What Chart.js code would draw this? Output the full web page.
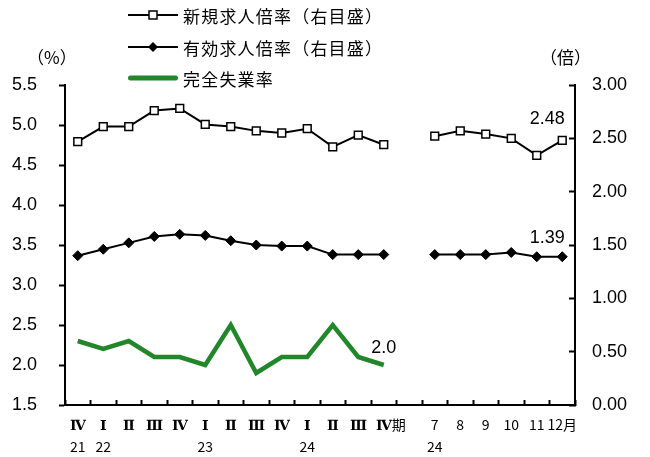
<!DOCTYPE html>
<html><head><meta charset="utf-8">
<script src="https://cdn.jsdelivr.net/npm/chart.js@4/dist/chart.umd.min.js"></script>
<style>
@font-face{font-family:"RomanSerif";src:local("DejaVu Serif Bold"),local("DejaVuSerif-Bold");unicode-range:U+2160-216F;}
html,body{margin:0;padding:0;background:#fff;}
#wrap{position:relative;width:650px;height:457px;overflow:hidden;}
#c{position:absolute;left:0;top:0;}
.t{position:absolute;font-family:"Noto Sans CJK JP";font-size:17px;color:#000;white-space:nowrap;line-height:1;}
.lg{position:absolute;left:128px;display:flex;align-items:center;height:24px;}
.lg span{font-family:"Noto Sans CJK JP";font-size:17px;letter-spacing:1.2px;margin-left:5px;color:#000;white-space:nowrap;}
</style></head>
<body>
<div id="wrap">
<canvas id="c" width="650" height="457"></canvas>
<div id="legend"></div>
<div class="t" style="left:27px;top:48px">（%）</div>
<div class="t" style="left:540px;top:48px">（倍）</div>
</div>
<script>
const categories = [["Ⅳ","21"],["Ⅰ","22"],"Ⅱ","Ⅲ","Ⅳ",["Ⅰ","23"],"Ⅱ","Ⅲ","Ⅳ",["Ⅰ","24"],"Ⅱ","Ⅲ","Ⅳ","期\u3000\u2002",["7","24"],"8","9","10","11","12月"];
const newRatio = [2.47,2.61,2.61,2.76,2.78,2.63,2.61,2.57,2.55,2.59,2.42,2.53,2.44,null,2.52,2.57,2.54,2.50,2.34,2.48];
const effRatio = [1.40,1.46,1.52,1.58,1.60,1.59,1.54,1.50,1.49,1.49,1.41,1.41,1.41,null,1.41,1.41,1.41,1.43,1.39,1.39];
const unemployment = [2.3,2.2,2.3,2.1,2.1,2.0,2.5,1.9,2.1,2.1,2.5,2.1,2.0,null,null,null,null,null,null,null];
const seriesNames = ["新規求人倍率（右目盛）","有効求人倍率（右目盛）","完全失業率"];
const leftTicks = [1.5,5.5,0.5];
const rightTicks = [0,3,0.5];
const endLabels = ["2.48","1.39","2.0"];

const GREEN = "#23862b";

// HTML legend
const legendDiv = document.getElementById('legend');
const legendMarkers = [
  '<svg width="50" height="12"><line x1="0" y1="6" x2="50" y2="6" stroke="#000" stroke-width="2"/><rect x="21" y="2" width="8" height="8" fill="#fff" stroke="#000" stroke-width="1.5"/></svg>',
  '<svg width="50" height="12"><line x1="0" y1="6" x2="50" y2="6" stroke="#000" stroke-width="2"/><polygon points="25,1 30,6 25,11 20,6" fill="#000"/></svg>',
  '<svg width="50" height="12"><line x1="2.5" y1="6" x2="47.5" y2="6" stroke="'+GREEN+'" stroke-width="5" stroke-linecap="round"/></svg>'
];
const legendY = [3, 35, 66];
seriesNames.forEach((n,i)=>{
  const d = document.createElement('div');
  d.className = 'lg';
  d.style.top = legendY[i] + 'px';
  d.innerHTML = legendMarkers[i] + '<span>' + n + '</span>';
  legendDiv.appendChild(d);
});

const endLabelPlugin = {
  id: 'endLabels',
  afterDatasetsDraw(chart) {
    const ctx = chart.ctx;
    ctx.save();
    ctx.font = '18px "Liberation Sans"';
    ctx.fillStyle = '#000';
    ctx.textAlign = 'center';
    ctx.textBaseline = 'middle';
    const specs = [[0,19,-15,-21],[1,19,-15,-19],[2,12,0,-17]];
    specs.forEach(([ds,idx,dx,dy])=>{
      const el = chart.getDatasetMeta(ds).data[idx];
      ctx.fillText(endLabels[ds], el.x + dx, el.y + dy);
    });
    ctx.restore();
  }
};

function draw(){
new Chart(document.getElementById('c'), {
  type: 'line',
  data: {
    labels: categories,
    datasets: [
      {label: seriesNames[0], data: newRatio, yAxisID: 'yR', borderColor: '#000', borderWidth: 2,
       pointStyle: 'rect', pointRadius: 5.5, pointBackgroundColor: '#fff', pointBorderColor: '#000', pointBorderWidth: 1.5,
       spanGaps: false, tension: 0},
      {label: seriesNames[1], data: effRatio, yAxisID: 'yR', borderColor: '#000', borderWidth: 2,
       pointStyle: 'rectRot', pointRadius: 5, pointBackgroundColor: '#000', pointBorderColor: '#000', pointBorderWidth: 1,
       spanGaps: false, tension: 0},
      {label: seriesNames[2], data: unemployment, yAxisID: 'yL', borderColor: GREEN, borderWidth: 4.5,
       pointRadius: 0, spanGaps: false, tension: 0, borderJoinStyle: 'miter'}
    ]
  },
  options: {
    responsive: false,
    animation: false,
    layout: {padding: {top: 85, left: 0, right: 0, bottom: 0}},
    plugins: {legend: {display: false}, tooltip: {enabled: false}},
    scales: {
      x: {
        offset: true,
        grid: {offset: true, drawOnChartArea: false, drawTicks: true, tickLength: -5, tickColor: '#000', tickWidth: 2},
        border: {color: '#000', width: 2},
        ticks: {color: '#000', font: {family: '"RomanSerif", "Noto Sans CJK JP"', size: 14, lineHeight: 1.55}, padding: 14, maxRotation: 0, autoSkip: false},
        afterFit(s){ s.height = 52; }
      },
      yL: {
        position: 'left', min: leftTicks[0], max: leftTicks[1],
        grid: {drawOnChartArea: false, tickLength: 6, tickColor: '#000', tickWidth: 2},
        border: {color: '#000', width: 2},
        ticks: {stepSize: leftTicks[2], color: '#000', font: {family: '"Liberation Sans"', size: 18}, padding: 22,
                callback: v => Number(v).toFixed(1)},
        afterFit(s){ s.width = 65; }
      },
      yR: {
        position: 'right', min: rightTicks[0], max: rightTicks[1],
        grid: {drawOnChartArea: false, tickLength: -6, tickColor: '#000', tickWidth: 2},
        border: {color: '#000', width: 2},
        ticks: {stepSize: rightTicks[2], color: '#000', font: {family: '"Liberation Sans"', size: 18}, padding: 23,
                callback: v => Number(v).toFixed(2)},
        afterFit(s){ s.width = 75; }
      }
    }
  },
  plugins: [endLabelPlugin]
});
}
Promise.all([
  document.fonts.load('14px "RomanSerif"', 'ⅠⅡⅢⅣ'),
  document.fonts.load('14px "Noto Sans CJK JP"', '期月'),
  document.fonts.load('18px "Liberation Sans"', '0123')
]).then(draw, draw);
</script>
</body></html>
